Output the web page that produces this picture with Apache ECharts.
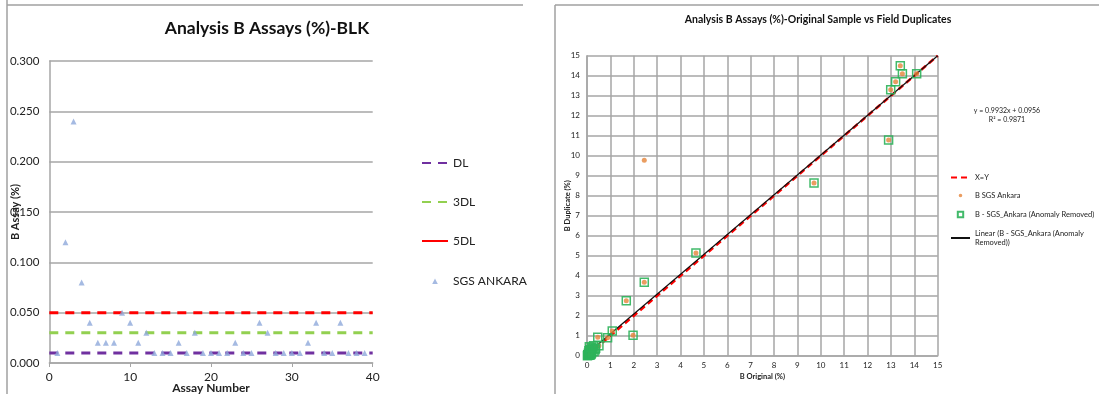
<!DOCTYPE html>
<html><head><meta charset="utf-8">
<script src="https://cdn.jsdelivr.net/npm/echarts@6/dist/echarts.min.js"></script>
<style>html,body{margin:0;padding:0;background:#fff}#c{width:1099px;height:394px}</style>
</head><body><div id="c"></div>
<script>
// ---- Left chart data (blanks) ----
const assayNumber = [1,2,3,4,5,6,7,8,9,10,11,12,13,14,15,16,17,18,19,20,21,22,23,24,25,26,27,28,29,30,31,32,33,34,35,36,37,38,39];
const sgsAnkara = [0.01,0.12,0.24,0.08,0.04,0.02,0.02,0.02,0.05,0.04,0.02,0.03,0.01,0.01,0.01,0.02,0.01,0.03,0.01,0.01,0.01,0.01,0.02,0.01,0.01,0.04,0.03,0.01,0.01,0.01,0.01,0.02,0.04,0.01,0.01,0.04,0.01,0.01,0.01];
const DL = 0.01, DL3 = 0.03, DL5 = 0.05;
const leftXRange = [0, 40];

// ---- Right chart data (field duplicates) ----
const bOriginal  = [13.40,13.49,14.10,13.20,12.99,12.90,2.45,9.71,4.66,2.45,1.68,1.97,1.08,0.88,0.46,0.51,0.37,
                    0.05,0.08,0.10,0.12,0.15,0.20,0.03,0.25,0.10,0.30,0.06,0.18,0.02,0.04,0.28,0.35,0.20,0.15,0.08,0.12];
const bDuplicate = [14.50,14.10,14.10,13.70,13.30,10.78,9.77,8.63,5.13,3.67,2.75,1.02,1.23,0.90,0.92,0.50,0.37,
                    0.02,0.05,0.10,0.30,0.20,0.15,0.05,0.35,0.45,0.20,0.12,0.08,0.00,0.03,0.50,0.30,0.40,0.05,0.25,0.02];
const anomalyIndex = [6];
const fitSlope = 0.9932, fitIntercept = 0.0956, fitR2 = 0.9871;
const rightRange = [0, 15];

const allPts = bOriginal.map((x,i)=>[x,bDuplicate[i]]);
const cleanPts = allPts.filter((p,i)=>anomalyIndex.indexOf(i)<0);

const FONT = 'Lato, "Open Sans", sans-serif';
const gridGray = '#A6A6A6';
const noSym = {color:'rgba(0,0,0,0)', borderWidth:0};

const chart = echarts.init(document.getElementById('c'), null, {renderer:'canvas'});
chart.setOption({
  animation:false,
  backgroundColor:'#fff',
  textStyle:{fontFamily:FONT},
  grid:[
    {left:49.3, right:726.3, top:61, bottom:31, outerBoundsMode:'none', containLabel:false},
    {left:587, right:161.3, top:55.7, bottom:38.3, outerBoundsMode:'none', containLabel:false}
  ],
  xAxis:[
    {gridIndex:0, type:'value', min:leftXRange[0], max:leftXRange[1], interval:10,
     axisLine:{show:true, onZero:false, lineStyle:{color:gridGray, width:1.5}},
     axisTick:{show:true, length:4, lineStyle:{color:gridGray}},
     splitLine:{show:false},
     axisLabel:{fontSize:12, color:'#222', fontFamily:FONT, margin:8},
     name:'Assay Number', nameLocation:'middle', nameGap:19, nameMoveOverlap:false,
     nameTextStyle:{fontSize:12, fontWeight:'bold', color:'#222', fontFamily:FONT}},
    {gridIndex:1, type:'value', min:rightRange[0], max:rightRange[1], interval:1,
     axisLine:{show:true, onZero:false, lineStyle:{color:gridGray, width:1.5}},
     axisTick:{show:false},
     splitLine:{show:true, lineStyle:{color:gridGray, width:1.5}},
     axisLabel:{fontSize:8, color:'#222', fontFamily:FONT, margin:6},
     name:'B Original (%)', nameLocation:'middle', nameGap:17, nameMoveOverlap:false,
     nameTextStyle:{fontSize:7.5, fontWeight:'bold', color:'#222', fontFamily:FONT}}
  ],
  yAxis:[
    {gridIndex:0, type:'value', min:0, max:0.3, interval:0.05,
     axisLine:{show:true, lineStyle:{color:gridGray, width:1.5}},
     axisTick:{show:false},
     splitLine:{show:true, lineStyle:{color:gridGray, width:1.5}},
     axisLabel:{fontSize:11.5, color:'#222', fontFamily:FONT, margin:10, formatter:v=>v.toFixed(3)},
     name:'B Assay (%)', nameLocation:'middle', nameGap:28, nameRotate:90, nameMoveOverlap:false,
     nameTextStyle:{fontSize:11, fontWeight:'bold', color:'#222', fontFamily:FONT}},
    {gridIndex:1, type:'value', min:rightRange[0], max:rightRange[1], interval:1,
     axisLine:{show:true, lineStyle:{color:gridGray, width:1.5}},
     axisTick:{show:false},
     splitLine:{show:true, lineStyle:{color:gridGray, width:1.5}},
     axisLabel:{fontSize:8, color:'#222', fontFamily:FONT, margin:7},
     name:'B Duplicate (%)', nameLocation:'middle', nameGap:15, nameRotate:90, nameMoveOverlap:false,
     nameTextStyle:{fontSize:7.5, fontWeight:'bold', color:'#222', fontFamily:FONT}}
  ],
  legend:[
    {orient:'vertical', left:416, top:152, itemWidth:26, itemHeight:14, itemGap:27,
     textStyle:{fontSize:12, color:'#222', fontFamily:FONT},
     data:[{name:'DL', itemStyle:noSym},{name:'3DL', itemStyle:noSym},
           {name:'5DL', itemStyle:noSym, lineStyle:{type:'solid'}},
           {name:'SGS ANKARA', icon:'path://M0,0M10,10M3,7.2L5,3.2L7,7.2Z'}]},
    {orient:'vertical', left:945, top:168, itemWidth:19, itemHeight:9, itemGap:9,
     textStyle:{fontSize:7.5, color:'#222', fontFamily:FONT, lineHeight:9},
     formatter:n=> n.indexOf('Linear')===0 ? 'Linear (B - SGS_Ankara (Anomaly\nRemoved))' : n,
     data:[{name:'X=Y', itemStyle:noSym},
           {name:'B SGS Ankara', icon:'path://M0,0M10,10M5,3A2,2 0 1 1 4.99,3Z'},
           {name:'B - SGS_Ankara (Anomaly Removed)', icon:'path://M0,0M10,10M2,2L8,2L8,8L2,8Z'},
           {name:'Linear (B - SGS_Ankara (Anomaly Removed))', itemStyle:noSym}]}
  ],
  series:[
    {name:'DL', type:'line', xAxisIndex:0, yAxisIndex:0, symbol:'none', z:3,
     data:[[leftXRange[0],DL],[leftXRange[1],DL]], lineStyle:{color:'#7030A0', width:3, type:[9,7]}, itemStyle:{color:'#7030A0'}},
    {name:'3DL', type:'line', xAxisIndex:0, yAxisIndex:0, symbol:'none', z:3,
     data:[[leftXRange[0],DL3],[leftXRange[1],DL3]], lineStyle:{color:'#92D050', width:3, type:[9,7]}, itemStyle:{color:'#92D050'}},
    {name:'5DL', type:'line', xAxisIndex:0, yAxisIndex:0, symbol:'none', z:3,
     data:[[leftXRange[0],DL5],[leftXRange[1],DL5]], lineStyle:{color:'#FF0000', width:3, type:[9,7]}, itemStyle:{color:'#FF0000'}},
    {name:'SGS ANKARA', type:'scatter', xAxisIndex:0, yAxisIndex:0, symbol:'triangle', symbolSize:6, z:4,
     data:assayNumber.map((x,i)=>[x,sgsAnkara[i]]), itemStyle:{color:'#8EA9DB'}},

    {name:'X=Y', type:'line', xAxisIndex:1, yAxisIndex:1, symbol:'none', z:3,
     data:[[rightRange[0],rightRange[0]],[rightRange[1],rightRange[1]]], lineStyle:{color:'#FF0000', width:2.5, type:[6,4]}, itemStyle:{color:'#FF0000'}},
    {name:'B SGS Ankara', type:'scatter', xAxisIndex:1, yAxisIndex:1, symbol:'circle', symbolSize:5, z:5,
     data:allPts, itemStyle:{color:'#E5843A'}},
    {name:'B - SGS_Ankara (Anomaly Removed)', type:'scatter', xAxisIndex:1, yAxisIndex:1, symbol:'rect', symbolSize:8, z:6,
     data:cleanPts, itemStyle:{color:'rgba(255,255,255,0)', borderColor:'#2DB35A', borderWidth:1.5, opacity:0.9}},
    {name:'Linear (B - SGS_Ankara (Anomaly Removed))', type:'line', xAxisIndex:1, yAxisIndex:1, symbol:'none', z:4,
     data:[[0.05, fitIntercept+0.05*fitSlope],[rightRange[1], fitIntercept+rightRange[1]*fitSlope]],
     lineStyle:{color:'#111', width:1.2}, itemStyle:{color:'#111'}}
  ],
  graphic:[
    {type:'line', shape:{x1:7, y1:0, x2:7, y2:394}, style:{stroke:'#A0A0A0', lineWidth:1.5}, silent:true},
    {type:'line', shape:{x1:7, y1:5, x2:523, y2:5}, style:{stroke:'#A0A0A0', lineWidth:1.5}, silent:true},
    {type:'line', shape:{x1:555, y1:5, x2:555, y2:394}, style:{stroke:'#A0A0A0', lineWidth:1.5}, silent:true},
    {type:'line', shape:{x1:555, y1:5, x2:1099, y2:5}, style:{stroke:'#A0A0A0', lineWidth:1.5}, silent:true},
    {type:'text', silent:true,
     style:{text:'Analysis B Assays (%)-BLK', x:267, y:28, textAlign:'center', textVerticalAlign:'middle',
            font:'bold 17.5px '+FONT, fill:'#111'}},
    {type:'text', silent:true,
     style:{text:'Analysis B Assays (%)-Original Sample vs Field Duplicates', x:818, y:20, textAlign:'center', textVerticalAlign:'middle',
            font:'bold 10.5px '+FONT, fill:'#111'}},
    {type:'text', silent:true,
     style:{text:'y = '+fitSlope+'x + '+fitIntercept, x:1007, y:111, textAlign:'center', textVerticalAlign:'middle',
            font:'7px '+FONT, fill:'#222'}},
    {type:'text', silent:true,
     style:{text:'R\u00B2 = '+fitR2, x:1007, y:120, textAlign:'center', textVerticalAlign:'middle',
            font:'7px '+FONT, fill:'#222'}}
  ]
});
</script></body></html>
